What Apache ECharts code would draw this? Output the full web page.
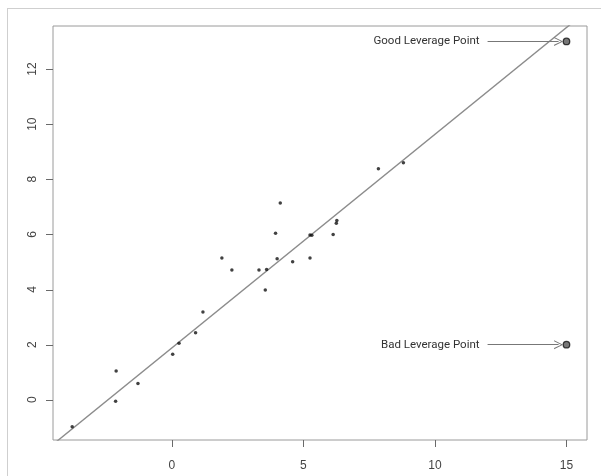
<!DOCTYPE html>
<html>
<head>
<meta charset="utf-8">
<script src="https://cdn.jsdelivr.net/npm/echarts@6/dist/echarts.min.js"></script>
<style>
  html, body { margin: 0; padding: 0; background: #fff; overflow: hidden; }
  .frame { position: absolute; left: 7px; top: 8px; width: 620px; height: 490px; border: 1px solid #cfcfcf; }
  #chart { position: absolute; left: 0; top: 0; width: 601px; height: 476px; }
</style>
</head>
<body>
<div class="frame"></div>
<div id="chart"></div>
<script>
// ordinary points
const pointX = [-3.79, -2.12, -2.14, -1.29, 0.03, 0.27, 0.90, 1.18, 1.90, 2.28, 3.31, 3.60, 3.55, 4.00, 3.94, 4.12, 4.59, 5.25, 5.25, 5.32, 6.13, 6.25, 6.27, 7.85, 8.80];
const pointY = [-0.98, 1.04, -0.05, 0.59, 1.65, 2.05, 2.43, 3.18, 5.14, 4.71, 4.71, 4.73, 3.98, 5.12, 6.04, 7.14, 5.01, 5.14, 5.98, 5.97, 6.00, 6.40, 6.50, 8.38, 8.60];
// leverage points
const leverageX = [15, 15];
const leverageY = [13, 2];
const leverageNames = ["Good Leverage Point", "Bad Leverage Point"];
// fitted line ends (clipped by the plot box)
const fitX = [-4.7, 16];
const fitY = [-1.76, 14.28];
// annotation arrows
const arrowFromX = [12.0, 12.0];
const arrowToX = [14.7, 14.7];

const xTicks = [0, 5, 10, 15];
const yTicks = [0, 2, 4, 6, 8, 10, 12];
const xRange = [-4.52, 15.78];
const yRange = [-1.46, 13.56];

const chart = echarts.init(document.getElementById("chart"));

// open ">" head
const chevron = "path://M0,10 L5,0 L10,10 L8.8,10 L5,2.2 L1.2,10 Z";

const option = {
  animation: false,
  backgroundColor: "transparent",
  textStyle: { fontFamily: "Liberation Sans, Arial, sans-serif" },
  grid: {
    show: true,
    left: 53,
    top: 26,
    right: 14,
    bottom: 36,
    borderColor: "#9a9a9a",
    borderWidth: 1,
    backgroundColor: "transparent",
  },
  xAxis: {
    type: "value",
    min: xRange[0],
    max: xRange[1],
    axisLine: { show: false, onZero: false },
    splitLine: { show: false },
    axisTick: { show: false },
    axisLabel: {
      color: "#444",
      fontSize: 12,
      margin: 20,
      customValues: xTicks,
    },
  },
  yAxis: {
    type: "value",
    min: yRange[0],
    max: yRange[1],
    axisLine: { show: false, onZero: false },
    splitLine: { show: false },
    axisTick: { show: false },
    axisLabel: {
      color: "#444",
      fontSize: 12,
      rotate: 90,
      margin: 14,
      customValues: yTicks,
    },
  },
  series: [
    {
      type: "line",
      data: fitX.map((x, i) => [x, fitY[i]]),
      symbol: "none",
      clip: true,
      lineStyle: { color: "#8c8c8c", width: 1.4 },
      z: 1,
    },
    {
      type: "scatter",
      data: pointX.map((x, i) => [x, pointY[i]]),
      symbolSize: 3.5,
      itemStyle: { color: "#111" },
      z: 3,
    },
    {
      type: "scatter",
      data: leverageX.map((x, i) => [x, leverageY[i]]),
      symbolSize: 6.5,
      itemStyle: { color: "#555", borderColor: "#111", borderWidth: 1.3 },
      z: 3,
      markLine: {
        silent: true,
        symbol: ["none", chevron],
        symbolSize: 9,
        itemStyle: { color: "#777" },
        lineStyle: { color: "#777", width: 1, type: "solid" },
        label: {
          show: true,
          position: "start",
          distance: 8,
          color: "#333",
          fontSize: 11.5,
          fontFamily: "Roboto, sans-serif",
          formatter: (p) => p.data.name,
        },
        data: leverageY.map((y, i) => [
          { coord: [arrowFromX[i], y], name: leverageNames[i] },
          { coord: [arrowToX[i], y] },
        ]),
      },
    },
  ],
};

chart.setOption(option);

// R-style tick marks outside the box, placed through each axis's own scale
const tickLen = 7;
const boxBottom = chart.convertToPixel({ yAxisIndex: 0 }, yRange[0]);
const boxLeft = chart.convertToPixel({ xAxisIndex: 0 }, xRange[0]);
const ticks = [];
xTicks.forEach((v) => {
  const x = Math.round(chart.convertToPixel({ xAxisIndex: 0 }, v)) + 0.5;
  ticks.push({
    type: "line",
    z: 100,
    silent: true,
    shape: { x1: x, y1: boxBottom, x2: x, y2: boxBottom + tickLen },
    style: { stroke: "#6a6a6a", lineWidth: 1 },
  });
});
yTicks.forEach((v) => {
  const y = Math.round(chart.convertToPixel({ yAxisIndex: 0 }, v)) + 0.5;
  ticks.push({
    type: "line",
    z: 100,
    silent: true,
    shape: { x1: boxLeft - tickLen, y1: y, x2: boxLeft, y2: y },
    style: { stroke: "#6a6a6a", lineWidth: 1 },
  });
});
chart.setOption({ graphic: { elements: ticks } });
</script>
</body>
</html>
